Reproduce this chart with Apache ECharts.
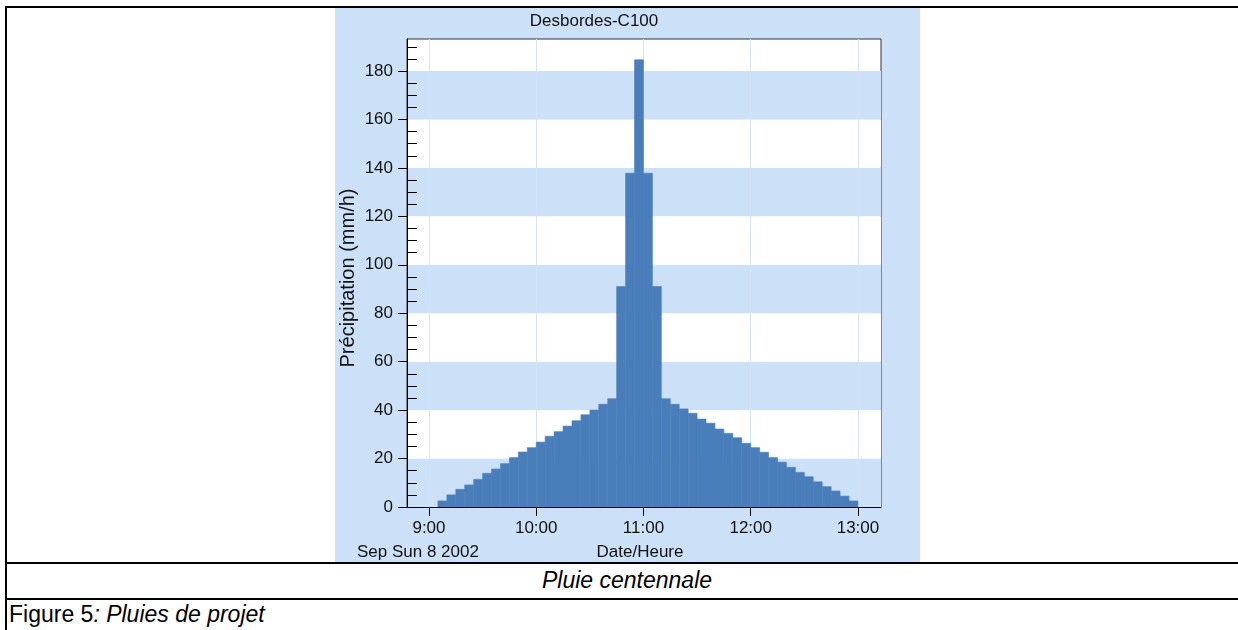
<!DOCTYPE html>
<html>
<head>
<meta charset="utf-8">
<script src="https://cdn.jsdelivr.net/npm/echarts@6/dist/echarts.min.js"></script>
<style>
  html, body { margin: 0; padding: 0; background: #fff; width: 1238px; height: 630px; overflow: hidden; position: relative; font-family: 'Liberation Sans', Arial, sans-serif; }
  .ln { position: absolute; background: #000; }
  #chart { position: absolute; left: 335px; top: 8px; width: 585px; height: 554px; }
  .cap { position: absolute; color: #000; white-space: nowrap; line-height: 1; }
</style>
</head>
<body>
<div class="ln" style="left:5px; top:6px; width:1233px; height:2px;"></div>
<div class="ln" style="left:5px; top:6px; width:2px; height:624px;"></div>
<div class="ln" style="left:5px; top:562px; width:1233px; height:2px;"></div>
<div class="ln" style="left:5px; top:598px; width:1233px; height:2px;"></div>
<div id="chart"></div>
<div class="cap" id="cap1" style="left:327px; width:600px; top:569px; text-align:center; font-size:23px; font-style:italic;">Pluie centennale</div>
<div class="cap" id="cap2" style="left:9px; top:603px; font-size:23px;">Figure 5<i>: Pluies de projet</i></div>
<script>
// ---- data ----
const chartTitle = 'Desbordes-C100';
const yAxisTitle = 'Précipitation (mm/h)';
const xAxisTitle = 'Date/Heure';
const dateLabel = 'Sep Sun 8 2002';
const firstIntervalStart = '9:05';   // start of first 5-min interval
const stepMinutes = 5;
// rainfall intensity (mm/h) for each 5-minute interval, 9:05 -> 13:00
const rainfall = [
  2.5, 5.0, 7.3, 9.1, 11.4, 13.9, 15.7, 17.9, 20.4, 22.7,
  24.5, 26.8, 29.2, 31.1, 33.4, 35.6, 38.1, 40.0, 42.4, 44.7,
  91.0, 137.8, 184.6, 137.8, 91.0,
  44.7, 42.4, 40.5, 38.7, 36.3, 34.6, 32.2, 30.4, 28.6, 26.3, 24.5,
  22.6, 20.4, 18.5, 16.4, 14.3, 12.5, 10.4, 8.4, 6.6, 4.5, 2.5
];
const xTickLabels = ['9:00', '10:00', '11:00', '12:00', '13:00'];
const yTickValues = [0, 20, 40, 60, 80, 100, 120, 140, 160, 180];
const yMinorStep = 5;
const xRange = ['8:47.7', '13:12.9'];
const yMax = 193.2;

// ---- helpers ----
function toMin(s) { const p = s.split(':'); return parseInt(p[0], 10) * 60 + parseFloat(p[1]); }
function fmt(m) { const h = Math.floor(m / 60), mm = Math.round(m - h * 60); return h + ':' + (mm < 10 ? '0' : '') + mm; }

const t0 = toMin(firstIntervalStart);
const bars = rainfall.map((v, i) => [t0 + i * stepMinutes, t0 + (i + 1) * stepMinutes, v]);
const xTickValues = xTickLabels.map(toMin);
const yMinorValues = [];
for (let v = 0; v <= yMax; v += yMinorStep) { if (v % 20 !== 0) yMinorValues.push(v); }

const FONT = "'Liberation Sans', Arial, sans-serif";
const TXT = '#111';
const BAR = '#4a7ebb';
const chart = echarts.init(document.getElementById('chart'), null, { renderer: 'canvas' });
chart.setOption({
  animation: false,
  backgroundColor: '#cce0f8',
  grid: { left: 72, top: 31, width: 474, height: 468, show: true, backgroundColor: '#ffffff', borderColor: '#333', borderWidth: 1 },
  graphic: [
    { type: 'text', x: 259, y: 13, style: { text: chartTitle, font: '17px ' + FONT, fill: TXT, align: 'center', verticalAlign: 'middle' } },
    { type: 'text', x: 13, y: 270, rotation: Math.PI / 2, style: { text: yAxisTitle, font: '20px ' + FONT, fill: TXT, align: 'center', verticalAlign: 'middle' } },
    { type: 'text', x: 22, y: 544, style: { text: dateLabel, font: '17px ' + FONT, fill: TXT, align: 'left', verticalAlign: 'middle' } },
    { type: 'text', x: 305, y: 544, style: { text: xAxisTitle, font: '17px ' + FONT, fill: TXT, align: 'center', verticalAlign: 'middle' } }
  ],
  xAxis: {
    type: 'value', min: toMin(xRange[0]), max: toMin(xRange[1]),
    axisLine: { lineStyle: { color: '#000', width: 1 } },
    axisTick: { show: true, length: 9, inside: false, customValues: xTickValues, lineStyle: { color: '#000' } },
    axisLabel: { customValues: xTickValues, formatter: v => fmt(v), fontFamily: FONT, fontSize: 17, color: TXT, margin: 13 },
    splitLine: { show: true, lineStyle: { color: '#d3e4f9', width: 1 } }
  },
  yAxis: [{
    type: 'value', min: 0, max: yMax,
    axisLine: { show: true, lineStyle: { color: '#000', width: 1 } },
    axisTick: { show: true, length: 9, inside: false, customValues: yTickValues, lineStyle: { color: '#000' } },
    axisLabel: { customValues: yTickValues, fontFamily: FONT, fontSize: 17, color: TXT, margin: 14 },
    splitLine: { show: false },
    splitArea: { show: true, areaStyle: { color: ['#cce0f8', '#ffffff'] } }
  }, {
    type: 'value', min: 0, max: yMax, position: 'left',
    axisLine: { show: false },
    axisTick: { show: true, length: 10, inside: true, customValues: yMinorValues, lineStyle: { color: '#000' } },
    axisLabel: { show: false },
    splitLine: { show: false }
  }],
  series: [{
    type: 'custom',
    data: bars,
    encode: { x: [0, 1], y: 2 },
    clip: true,
    renderItem: function (params, api) {
      const a = api.coord([api.value(0), api.value(2)]);
      const b = api.coord([api.value(1), 0]);
      return { type: 'rect', shape: { x: a[0], y: a[1], width: b[0] - a[0], height: b[1] - a[1] }, style: { fill: BAR, stroke: BAR, lineWidth: 0.6 } };
    }
  }]
});
</script>
</body>
</html>
